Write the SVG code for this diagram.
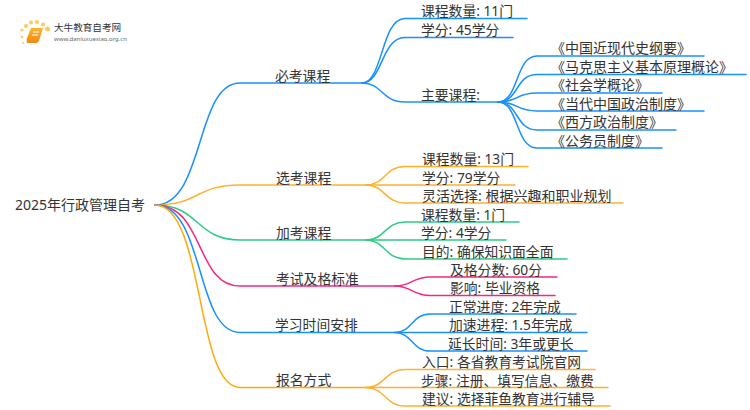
<svg xmlns="http://www.w3.org/2000/svg" width="750" height="410" viewBox="0 0 750 410">
<defs><linearGradient id="bk" x1="0" y1="0" x2="0" y2="1"><stop offset="0" stop-color="#fbb32f"/><stop offset="1" stop-color="#f08a10"/></linearGradient></defs>
<style>
text{font-family:"Noto Sans","Noto Sans CJK SC",sans-serif;font-size:13.800px;fill:#333}
.w text,text.w{font-size:14px}
.c{fill:none;stroke-width:1.500;stroke-linecap:round}
.b{stroke:#1890ff}.o{stroke:#ffb02e}.g{stroke:#2ecb85}.p{stroke:#f5287f}.a{stroke:#ffa90a}
.d{fill:#ffc95c}
</style>
<rect width="750" height="410" fill="#fff"/>
<g id="connectors">
<path class="c b" d="M155 205C205 205 195 83 240 83H362"/>
<path class="c b" d="M362 83C383 83 381 18.500 405 18.500H527"/>
<path class="c b" d="M362 83C383 83 381 37.500 405 37.500H513"/>
<path class="c b" d="M362 83C383 83 381 102 405 102H498"/>
<path class="c b" d="M498 102C519 102 515 56 537 56H704"/>
<path class="c b" d="M498 102C519 102 515 74.500 537 74.500H746"/>
<path class="c b" d="M498 102C519 102 515 93 537 93H662"/>
<path class="c b" d="M498 102C519 102 515 111 537 111H704"/>
<path class="c b" d="M498 102C519 102 515 130 537 130H676"/>
<path class="c b" d="M498 102C519 102 515 148 537 148H662"/>
<path class="c o" d="M155 205C200 205 195 185 240 185H366"/>
<path class="c o" d="M366 185C385 185 385 166.500 405 166.500H528"/>
<path class="c o" d="M366 185H515"/>
<path class="c o" d="M366 185C385 185 385 203 405 203H623"/>
<path class="c g" d="M155 205C200 205 195 240 240 240H366"/>
<path class="c g" d="M366 240C385 240 385 222 405 222H519"/>
<path class="c g" d="M366 240H506"/>
<path class="c g" d="M366 240C385 240 385 259 405 259H567"/>
<path class="c p" d="M155 205C205 205 195 286 240 286H395"/>
<path class="c p" d="M395 286C412 286 412 277 430 277H557"/>
<path class="c p" d="M395 286C412 286 412 295.500 430 295.500H555"/>
<path class="c b" d="M155 205C205 205 195 332.500 240 332.500H395"/>
<path class="c b" d="M395 332.500C412 332.500 412 314 430 314H576"/>
<path class="c b" d="M395 332.500H587"/>
<path class="c b" d="M395 332.500C412 332.500 412 351 430 351H587"/>
<path class="c a" d="M155 205C205 205 195 387.500 240 387.500H366"/>
<path class="c o" d="M366 387.500C385 387.500 385 369.500 405 369.500H595"/>
<path class="c o" d="M366 387.500H608"/>
<path class="c o" d="M366 387.500C385 387.500 385 406 405 406H610"/>
</g>
<g id="logo">
<circle class="d" cx="22" cy="30" r="1.500"/><circle class="d" cx="26" cy="26" r="2"/><circle class="d" cx="31" cy="22.500" r="2"/><circle class="d" cx="37" cy="22" r="2"/><circle class="d" cx="43" cy="24.500" r="2"/><circle class="d" cx="47.500" cy="29" r="2.500"/><circle class="d" cx="22" cy="37" r="1.200"/><circle class="d" cx="23" cy="43" r="1"/>
<path d="M31 28H43L39 41Q38 43 36 43H27Q26 40 27 38Z" fill="url(#bk)"/><path d="M33 32H39M32 35H38" stroke="#fff" stroke-width="1.200"/>
<text x="54" y="31" style="font-size:9.600px;font-family:'Noto Sans CJK SC',sans-serif">大牛教育自考网</text>
<text x="54" y="41" style="font-size:6px;fill:#666">www.daniuxuexiao.org.cn</text>
</g>
<g id="root"><text class="w" x="15" y="210">2025年行政管理自考</text></g>
<g id="n1"><text x="275" y="81">必考课程</text></g>
<g id="n11"><text x="421" y="16">课程数量: 11门</text></g>
<g id="n12"><text x="421" y="35">学分: 45学分</text></g>
<g id="n13"><text x="421" y="99.500">主要课程:</text></g>
<g id="n131"><text class="w" x="551" y="53">《中国近现代史纲要》</text></g>
<g id="n132"><text class="w" x="551" y="71.500">《马克思主义基本原理概论》</text></g>
<g id="n133"><text class="w" x="551" y="90">《社会学概论》</text></g>
<g id="n134"><text class="w" x="551" y="108.500">《当代中国政治制度》</text></g>
<g id="n135"><text class="w" x="551" y="127">《西方政治制度》</text></g>
<g id="n136"><text class="w" x="551" y="145.500">《公务员制度》</text></g>
<g id="n2"><text x="276" y="182.500">选考课程</text></g>
<g id="n21"><text x="422" y="164">课程数量: 13门</text></g>
<g id="n22"><text x="422" y="182.500">学分: 79学分</text></g>
<g id="n23"><text class="w" x="422" y="201">灵活选择: 根据兴趣和职业规划</text></g>
<g id="n3"><text x="276" y="237.500">加考课程</text></g>
<g id="n31"><text x="421" y="219.500">课程数量: 1门</text></g>
<g id="n32"><text x="421" y="238">学分: 4学分</text></g>
<g id="n33"><text x="422" y="256.500">目的: 确保知识面全面</text></g>
<g id="n4"><text x="276" y="283.500">考试及格标准</text></g>
<g id="n41"><text x="450" y="274.500">及格分数: 60分</text></g>
<g id="n42"><text x="450" y="293">影响: 毕业资格</text></g>
<g id="n5"><text x="275" y="330">学习时间安排</text></g>
<g id="n51"><text x="449" y="311.500">正常进度: 2年完成</text></g>
<g id="n52"><text x="449" y="330">加速进程: 1.5年完成</text></g>
<g id="n53"><text x="448" y="348.500">延长时间: 3年或更长</text></g>
<g id="n6"><text x="276" y="385">报名方式</text></g>
<g id="n61"><text x="422" y="367">入口: 各省教育考试院官网</text></g>
<g id="n62"><text x="421" y="385.500">步骤: 注册、填写信息、缴费</text></g>
<g id="n63"><text x="422" y="403.500">建议: 选择菲鱼教育进行辅导</text></g>
</svg>
